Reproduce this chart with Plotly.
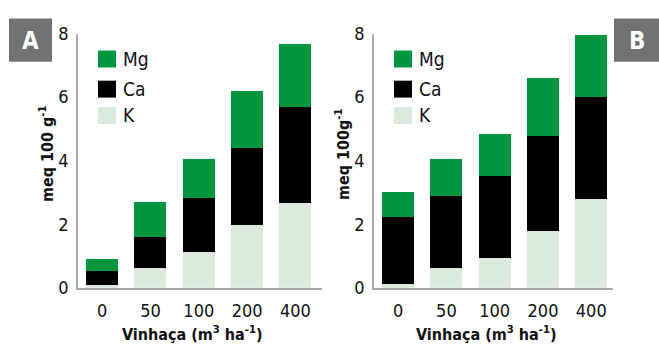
import plotly.graph_objects as go

W, H = 659, 358
FONT = "DejaVu Sans Condensed, Liberation Sans Narrow, sans-serif"

# Vinasse doses (m3/ha)
doses = ["0", "50", "100", "200", "400"]

# Exchangeable cations, meq 100 g-1 (stacked: K, Ca, Mg) - panel A
a_k = [0.09, 0.61, 1.13, 1.99, 2.67]
a_ca = [0.44, 0.99, 1.68, 2.40, 3.02]
a_mg = [0.38, 1.10, 1.25, 1.80, 1.98]

# Panel B
b_k = [0.12, 0.62, 0.95, 1.78, 2.79]
b_ca = [2.10, 2.28, 2.58, 2.99, 3.20]
b_mg = [0.78, 1.16, 1.30, 1.84, 1.98]

names = ["K", "Ca", "Mg"]
colors = ["#d9e9dc", "#000000", "#009640"]
y_ticks = [0, 2, 4, 6, 8]


def px_x(p):
    return p / W


def px_y(p):
    return 1 - p / H


fig = go.Figure()
panels = [("x", "y", [a_k, a_ca, a_mg]), ("x2", "y2", [b_k, b_ca, b_mg])]
for xa, ya, series in panels:
    for name, col, vals in zip(names, colors, series):
        fig.add_trace(go.Bar(x=doses, y=vals, name=name, marker=dict(color=col, line=dict(width=0)),
                             xaxis=xa, yaxis=ya, showlegend=False))

axis_line = dict(showline=True, linecolor="#a8a8a8", linewidth=1.5, showgrid=False,
                 zeroline=False, ticks="", fixedrange=True,
                 tickfont=dict(family=FONT, size=18, color="#111111"))

fig.update_layout(
    width=W, height=H, margin=dict(l=0, r=0, t=0, b=0),
    paper_bgcolor="white", plot_bgcolor="white",
    barmode="stack", bargap=0.337,
    xaxis=dict(domain=[px_x(78), px_x(322)], range=[-0.5, 4.55], type="category",
               ticklabelstandoff=6, **axis_line),
    yaxis=dict(domain=[px_y(294), px_y(24)], range=[0, 8], tickvals=y_ticks,
               ticklabelstandoff=4, **axis_line),
    xaxis2=dict(domain=[px_x(374), px_x(613)], range=[-0.5, 4.45], type="category",
                anchor="y2", ticklabelstandoff=6, **axis_line),
    yaxis2=dict(domain=[px_y(294), px_y(24)], range=[0, 8], tickvals=y_ticks,
                anchor="x2", ticklabelstandoff=4, **axis_line),
)

shapes = []
annotations = []

# Legends: Mg, Ca, K from top to bottom
legend_rows = [(42, "Mg", colors[2]), (74, "Ca", colors[1]), (102, "K", colors[0])]
for x0 in (98, 394):
    for top, label, col in legend_rows:
        shapes.append(dict(type="rect", xref="paper", yref="paper",
                           x0=px_x(x0), x1=px_x(x0 + 18), y0=px_y(top + 18), y1=px_y(top),
                           fillcolor=col, line=dict(width=0)))
        annotations.append(dict(text=label, xref="paper", yref="paper",
                                x=px_x(x0 + 23), y=px_y(top + 9), xanchor="left", yanchor="middle",
                                showarrow=False, font=dict(family=FONT, size=19, color="#111111")))

# Panel letters
for (x0, x1), letter in [((9, 52), "A"), ((614, 659), "B")]:
    shapes.append(dict(type="rect", xref="paper", yref="paper",
                       x0=px_x(x0), x1=px_x(x1), y0=px_y(54), y1=px_y(8),
                       fillcolor="#727272", line=dict(width=0)))
    annotations.append(dict(text=f"<b>{letter}</b>", xref="paper", yref="paper",
                            x=px_x((x0 + x1) / 2), y=px_y(32), xanchor="center", yanchor="middle",
                            showarrow=False, font=dict(family=FONT, size=24, color="white")))

# Axis titles
for cx, ytxt in [(46, "meq 100 g<sup>-1</sup>"), (342, "meq 100g<sup>-1</sup>")]:
    annotations.append(dict(text=f"<b>{ytxt}</b>", xref="paper", yref="paper",
                            x=px_x(cx), y=px_y(152), xanchor="center", yanchor="middle",
                            textangle=-90, showarrow=False,
                            font=dict(family=FONT, size=16, color="#111111")))
for cx in (192, 487):
    annotations.append(dict(text="<b>Vinhaça (m<sup>3</sup> ha<sup>-1</sup>)</b>", xref="paper", yref="paper",
                            x=px_x(cx), y=px_y(343), xanchor="center", yanchor="middle",
                            showarrow=False, font=dict(family=FONT, size=16, color="#111111")))

fig.update_layout(shapes=shapes, annotations=annotations)
fig.write_html("out.html")
